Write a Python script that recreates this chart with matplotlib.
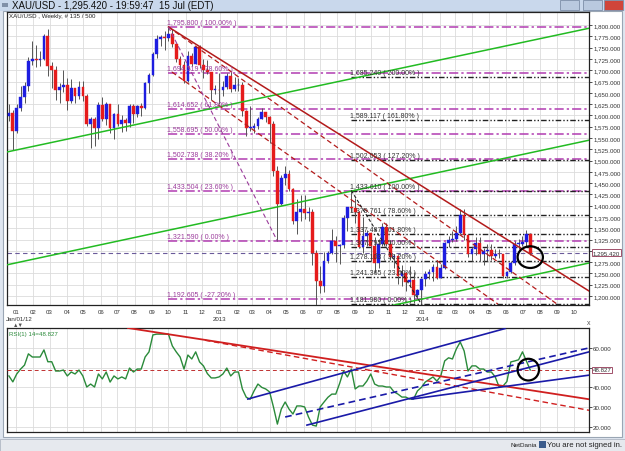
import matplotlib
matplotlib.use("Agg")
import matplotlib.pyplot as plt
from matplotlib.patches import Rectangle, Ellipse
import matplotlib.transforms as mtrans
import pandas as pd

plt.rcParams['font.family'] = ['Liberation Sans', 'DejaVu Sans']

# ---- weekly XAU/USD candles, first candle = week of 2011-12-19 ----
opens = [1598, 1606, 1566, 1616, 1640, 1664, 1720, 1725, 1723, 1725, 1775, 1710, 1700, 1656, 1662,
         1668, 1631, 1660, 1642, 1663, 1644, 1581, 1592, 1573, 1622, 1592, 1626, 1572, 1604, 1580,
         1590, 1583, 1621, 1604, 1620, 1616, 1671, 1690, 1737, 1770, 1773, 1772, 1780, 1758, 1725,
         1712, 1676, 1731, 1714, 1751, 1711, 1701, 1696, 1657, 1657, 1656, 1662, 1687, 1658, 1667,
         1667, 1609, 1572, 1573, 1577, 1592, 1607, 1596, 1580, 1476, 1404, 1462, 1470, 1436, 1365,
         1386, 1393, 1383, 1387, 1296, 1234, 1223, 1277, 1296, 1322, 1310, 1313, 1372, 1396, 1395,
         1387, 1308, 1333, 1339, 1310, 1273, 1315, 1352, 1316, 1287, 1288, 1244, 1250, 1230, 1235,
         1203, 1213, 1238, 1248, 1254, 1264, 1240, 1262, 1318, 1324, 1326, 1339, 1380, 1334, 1294,
         1303, 1318, 1293, 1300, 1302, 1288, 1293, 1292, 1245, 1252, 1274, 1316, 1316, 1320, 1337]
highs = [1625, 1612, 1626, 1664, 1675, 1730, 1764, 1757, 1743, 1781, 1792, 1718, 1710, 1672, 1700,
         1682, 1680, 1661, 1677, 1677, 1647, 1597, 1597, 1629, 1640, 1629, 1626, 1605, 1626, 1600,
         1595, 1625, 1625, 1623, 1627, 1675, 1693, 1740, 1777, 1779, 1787, 1796, 1791, 1760, 1732,
         1721, 1743, 1738, 1754, 1755, 1724, 1723, 1697, 1668, 1693, 1677, 1693, 1696, 1684, 1683,
         1675, 1612, 1620, 1584, 1597, 1616, 1608, 1599, 1587, 1487, 1468, 1488, 1478, 1439, 1415,
         1424, 1424, 1396, 1392, 1301, 1267, 1297, 1300, 1348, 1333, 1316, 1380, 1397, 1434, 1418,
         1388, 1375, 1346, 1340, 1331, 1327, 1361, 1361, 1323, 1293, 1290, 1268, 1253, 1267, 1252,
         1216, 1239, 1256, 1259, 1271, 1280, 1270, 1320, 1332, 1345, 1355, 1392, 1392, 1337, 1308,
         1331, 1331, 1306, 1315, 1315, 1305, 1304, 1294, 1256, 1277, 1321, 1326, 1332, 1346, 1340]
lows = [1588, 1523, 1560, 1609, 1628, 1655, 1712, 1708, 1710, 1723, 1688, 1660, 1635, 1627, 1651,
        1612, 1628, 1627, 1636, 1632, 1577, 1527, 1532, 1547, 1588, 1578, 1562, 1548, 1576, 1563,
        1565, 1574, 1583, 1597, 1598, 1615, 1649, 1688, 1727, 1753, 1745, 1765, 1752, 1718, 1701,
        1672, 1673, 1710, 1714, 1705, 1683, 1692, 1635, 1647, 1626, 1643, 1658, 1651, 1653, 1655,
        1598, 1554, 1565, 1562, 1570, 1592, 1585, 1539, 1466, 1321, 1401, 1445, 1432, 1359, 1338,
        1365, 1371, 1366, 1268, 1180, 1207, 1209, 1272, 1292, 1276, 1270, 1306, 1345, 1386, 1362,
        1306, 1295, 1310, 1277, 1251, 1261, 1311, 1310, 1280, 1262, 1226, 1222, 1211, 1222, 1185,
        1194, 1182, 1221, 1237, 1234, 1238, 1240, 1259, 1308, 1319, 1322, 1337, 1325, 1287, 1277,
        1291, 1277, 1268, 1277, 1280, 1284, 1284, 1240, 1240, 1250, 1269, 1305, 1310, 1310, 1290]
closes = [1606, 1566, 1616, 1640, 1664, 1720, 1725, 1723, 1725, 1775, 1710, 1700, 1656, 1662, 1668,
          1631, 1660, 1642, 1663, 1644, 1581, 1592, 1573, 1622, 1592, 1626, 1572, 1604, 1580, 1590,
          1583, 1621, 1604, 1620, 1616, 1671, 1690, 1737, 1770, 1773, 1772, 1780, 1758, 1725, 1712,
          1676, 1731, 1714, 1751, 1711, 1701, 1696, 1657, 1657, 1656, 1662, 1687, 1658, 1667, 1667,
          1609, 1572, 1573, 1577, 1592, 1607, 1596, 1580, 1476, 1404, 1462, 1470, 1436, 1365, 1386,
          1393, 1383, 1387, 1296, 1234, 1223, 1277, 1296, 1322, 1310, 1313, 1372, 1396, 1395, 1387,
          1308, 1333, 1339, 1310, 1273, 1315, 1352, 1316, 1287, 1288, 1244, 1250, 1230, 1235, 1203,
          1213, 1238, 1248, 1254, 1264, 1240, 1262, 1318, 1324, 1326, 1339, 1380, 1334, 1294, 1303,
          1318, 1293, 1300, 1302, 1288, 1293, 1292, 1245, 1252, 1274, 1316, 1316, 1320, 1337, 1295.42]

rsi = [45.8, 42.8, 46.8, 49.3, 51.3, 57.0, 55.4, 55.4, 55.4, 59.0, 53.0, 53.0, 48.3, 48.3, 48.8,
       45.8, 47.8, 46.8, 48.8, 45.8, 40.2, 41.7, 40.2, 46.8, 44.3, 47.8, 42.7, 45.8, 44.3, 45.3,
       44.3, 49.8, 47.8, 49.3, 49.3, 55.4, 58.0, 66.6, 67.0, 67.0, 67.0, 67.0, 61.0, 58.0, 55.4,
       49.3, 56.4, 54.4, 58.0, 52.9, 50.9, 47.0, 44.8, 44.8, 45.3, 46.8, 49.8, 45.8, 47.8, 47.8,
       39.2, 35.0, 34.0, 38.2, 41.7, 40.0, 39.2, 37.7, 30.0, 21.4, 29.0, 32.6, 29.0, 26.5, 30.6,
       30.6, 30.1, 25.0, 20.9, 20.4, 30.1, 32.6, 35.0, 36.6, 36.6, 42.0, 48.3, 45.3, 49.3, 39.2,
       40.7, 40.7, 43.2, 46.8, 41.7, 40.7, 40.7, 40.2, 40.2, 37.7, 36.6, 35.1, 35.1, 34.1, 34.1,
       38.2, 40.0, 42.7, 44.0, 45.3, 43.2, 45.8, 53.4, 55.0, 54.4, 59.5, 63.0, 58.5, 48.3, 50.9,
       50.9, 49.3, 49.3, 47.8, 47.8, 45.3, 40.2, 40.7, 43.0, 52.9, 53.4, 54.0, 58.0, 53.4, 48.827]

first_week = pd.Timestamp("2011-12-19")
last_price = 1295.42
last_rsi = 48.827

# fibonacci retracements: start week, high, low, ratios
fib1_start, fib1_high, fib1_low = 41, 1795.80, 1321.59
fib1_ratios = [1.0, 0.786, 0.618, 0.5, 0.382, 0.236, 0.0, -0.272]
fib2_start, fib2_high, fib2_low = 88, 1433.61, 1181.98
fib2_ratios = [2.0, 1.618, 1.272, 1.0, 0.786, 0.618, 0.5, 0.382, 0.236, 0.0]

# trend lines as (week, price) pairs
green_lines = [((-0.5, 1519), (149.1, 1793)),
               ((-0.5, 1269), (149.1, 1545)),
               ((98.0, 1178), (149.1, 1273))]
red_solid = [((41, 1795.8), (149.1, 1211))]
red_dashed = [((41, 1795.8), (140.9, 1182)),
              ((41.9, 1696), (125.7, 1182))]
fib1_diag = ((41, 1795.8), (69, 1321.59))
fib2_diag = ((88, 1433.61), (106, 1181.98))

# rsi trend lines as (week, rsi) pairs
rsi_red_solid = ((30.6, 70.1), (149.1, 34.0))
rsi_red_dashed = ((50.4, 63.9), (149.1, 28.4))
rsi_blue_solid = [((61.4, 34.1), (127.5, 69.8)),
                  ((76.6, 20.9), (149.1, 58.0)),
                  ((103.6, 34.1), (149.1, 46.2))]
rsi_blue_dashed = [((71.0, 25.0), (149.1, 60.0))]

# ---------------------------------------------------------------
W, H = 625, 452
fig = plt.figure(figsize=(W / 100, H / 100), dpi=100)
fig.patch.set_facecolor("#dfe6f0")
SMALL = 4.4


def fx(px):
    return px / W


def fy(py):
    return 1 - py / H


def frame_rect(x0, y0, w, h, **kw):
    fig.patches.append(Rectangle((fx(x0), fy(y0 + h)), w / W, h / H, transform=fig.transFigure,
                                 zorder=-5, **kw))


# window chrome
frame_rect(0, 0, 625, 12, facecolor="#c9d8ec", edgecolor="none")
frame_rect(3, 12, 619, 426, facecolor="white", edgecolor="#9aa6b4", lw=0.8)
frame_rect(0, 440, 625, 12, facecolor="#e6e9ee", edgecolor="#b0b8c4", lw=0.6)
for x0, col in [(560, "#b9c9df"), (583, "#b9c9df"), (604, "#d0453a")]:
    frame_rect(x0, 1, 19, 10, facecolor=col, edgecolor="#7d8ea8", lw=0.6)
frame_rect(2, 4, 6, 4, facecolor="#8090a8", edgecolor="none")
fig.text(fx(12), fy(6), "XAU/USD - 1,295.420 - 19:59:47  15 Jul (EDT)", fontsize=7.0,
         va="center", color="#111")
fig.text(fx(537), fy(446), "NetDania", fontsize=4.6, ha="right", va="center", color="#222")
frame_rect(539, 442, 7, 7, facecolor="#3b5c8c", edgecolor="none")
fig.text(fx(622), fy(446), "You are not signed in.", fontsize=5.6, ha="right", va="center",
         color="#222")

# axes
ax = fig.add_axes([fx(7), fy(306), fx(589 - 7), (306 - 13) / H])
ax2 = fig.add_axes([fx(7), fy(433), fx(589 - 7), (433 - 329) / H])

month_starts = pd.date_range("2012-01-01", "2014-10-01", freq="MS")
month_pos = [(m - first_week).days / 7 for m in month_starts]
month_lbl = [m.strftime("%m") for m in month_starts]

for a in (ax, ax2):
    a.set_xlim(-0.5, 149.1)
    a.set_xticks(month_pos)
    a.grid(True, color="#dcdcdc", lw=0.6)
    a.set_axisbelow(True)
    a.yaxis.tick_right()
    for s in a.spines.values():
        s.set_color("#222")
        s.set_linewidth(0.9)
    a.tick_params(axis="y", labelsize=SMALL, length=2, width=0.6, pad=1, colors="#333")

price_ticks = list(range(1200, 1801, 25))
ax.set_ylim(1180, 1829)
ax.set_yticks(price_ticks)
# the 1,300 label sits under the last-price box
ax.set_yticklabels(["" if v == 1300 else f"{v:,.3f}" for v in price_ticks])
ax.set_xticklabels(month_lbl)
ax.tick_params(axis="x", labelsize=SMALL, length=0, pad=3, colors="#333")

# candles
for i in range(len(closes)):
    o, h, l, c = opens[i], highs[i], lows[i], closes[i]
    col = "#1d1de0" if c >= o else "#e51b1b"
    ax.vlines(i, l, h, color="#555555", lw=0.7, zorder=3)
    ax.add_patch(Rectangle((i - 0.35, min(o, c)), 0.7, max(abs(c - o), 1.2),
                           facecolor=col, edgecolor=col, lw=0.3, zorder=4))

# fib levels
for r in fib1_ratios:
    lvl = fib1_low + r * (fib1_high - fib1_low)
    ax.plot([fib1_start, 149.1], [lvl, lvl], color="#b23cb2", lw=1.1,
            ls=(0, (6, 2, 1.5, 2)), zorder=2)
    ax.text(fib1_start - 0.5, lvl + 2, f"{lvl:,.3f} ( {r * 100:.2f}% )", fontsize=5,
            color="#9b3b9b", va="bottom", ha="left", zorder=6)
for r in fib2_ratios:
    lvl = fib2_low + r * (fib2_high - fib2_low)
    ax.plot([fib2_start, 149.1], [lvl, lvl], color="#222222", lw=1.0,
            ls=(0, (4, 1.5, 1, 1.5, 1, 1.5)), zorder=2)
    ax.text(fib2_start - 0.3, lvl + 2, f"{lvl:,.3f} ( {r * 100:.2f}% )", fontsize=5,
            color="#333333", va="bottom", ha="left", zorder=6)

ax.axhline(last_price, color="#6a5a9a", lw=0.8, ls=(0, (4, 3)), zorder=2)

for p, q in green_lines:
    ax.plot([p[0], q[0]], [p[1], q[1]], color="#22bb22", lw=1.1, zorder=5)
for p, q in red_solid:
    ax.plot([p[0], q[0]], [p[1], q[1]], color="#b31b1b", lw=1.1, zorder=5)
for p, q in red_dashed:
    ax.plot([p[0], q[0]], [p[1], q[1]], color="#b31b1b", lw=0.9, ls=(0, (4, 2.5)), zorder=5)
ax.plot([fib1_diag[0][0], fib1_diag[1][0]], [fib1_diag[0][1], fib1_diag[1][1]],
        color="#9b3b9b", lw=0.8, ls=(0, (4, 2.5)), zorder=5)
ax.plot([fib2_diag[0][0], fib2_diag[1][0]], [fib2_diag[0][1], fib2_diag[1][1]],
        color="#222222", lw=0.8, ls=(0, (3, 2)), zorder=5)

# circle around last candle
ax.add_patch(Ellipse((134, 1286), 6.5, 48, facecolor="none", edgecolor="black", lw=1.6,
                     zorder=7))

trans = mtrans.blended_transform_factory(ax.transAxes, ax.transData)
ax.text(1.006, last_price, f"{last_price:,.3f}", transform=trans, fontsize=SMALL, va="center",
        ha="left", color="#333",
        bbox=dict(boxstyle="square,pad=0.15", facecolor="white", edgecolor="#a0506a", lw=0.7),
        zorder=8)
ax.text(0.003, 0.995, "XAU/USD , Weekly, # 135 / 500", transform=ax.transAxes, fontsize=SMALL,
        va="top", ha="left", color="#222", zorder=8)

# year captions under month labels
xtr = mtrans.blended_transform_factory(ax.transData, ax.transAxes)
ax.text(month_pos[0] - 2.6, -0.045, "Jan/01/12", transform=xtr, fontsize=SMALL, color="#333",
        va="center")
ax.text(month_pos[12], -0.045, "2013", transform=xtr, fontsize=SMALL, color="#333",
        va="center", ha="center")
ax.text(month_pos[24], -0.045, "2014", transform=xtr, fontsize=SMALL, color="#333",
        va="center", ha="center")

# RSI panel
ax2.set_ylim(17.4, 70.1)
ax2.set_yticks([20, 30, 40, 50, 60])
ax2.set_yticklabels(["20.000", "30.000", "40.000", "", "60.000"])
ax2.set_xticklabels([])
ax2.tick_params(axis="x", length=0)
ax2.plot(range(len(rsi)), rsi, color="#2a8a3a", lw=1.0, zorder=4)
ax2.axhline(last_rsi, color="#c03030", lw=0.7, ls=(0, (4, 3)), zorder=3)
ax2.plot([rsi_red_solid[0][0], rsi_red_solid[1][0]], [rsi_red_solid[0][1], rsi_red_solid[1][1]],
         color="#d01f1f", lw=1.3, zorder=5)
ax2.plot([rsi_red_dashed[0][0], rsi_red_dashed[1][0]],
         [rsi_red_dashed[0][1], rsi_red_dashed[1][1]],
         color="#d01f1f", lw=1.0, ls=(0, (4, 2.5)), zorder=5)
for p, q in rsi_blue_solid:
    ax2.plot([p[0], q[0]], [p[1], q[1]], color="#1a1aa8", lw=1.2, zorder=5)
for p, q in rsi_blue_dashed:
    ax2.plot([p[0], q[0]], [p[1], q[1]], color="#1a1aa8", lw=1.2, ls=(0, (4, 2.5)), zorder=5)
ax2.add_patch(Ellipse((133.5, 49), 5.5, 11, facecolor="none", edgecolor="black", lw=1.6,
                      zorder=7))
trans2 = mtrans.blended_transform_factory(ax2.transAxes, ax2.transData)
ax2.text(1.006, last_rsi, f"{last_rsi:.3f}", transform=trans2, fontsize=SMALL, va="center",
         ha="left", color="#333",
         bbox=dict(boxstyle="square,pad=0.15", facecolor="white", edgecolor="#a0506a", lw=0.7),
         zorder=8)
ax2.text(0.004, 0.97, "RSI(1) 14=48.827", transform=ax2.transAxes, fontsize=SMALL, va="top",
         ha="left", color="#2a8a3a")
ax2.text(1.0, 1.04, "x", transform=ax2.transAxes, fontsize=5, color="#555", ha="center")
ax2.text(0.01, 1.02, "▲▼", transform=ax2.transAxes, fontsize=4, color="#555")

fig.savefig("out.png", dpi=100, facecolor=fig.get_facecolor())
